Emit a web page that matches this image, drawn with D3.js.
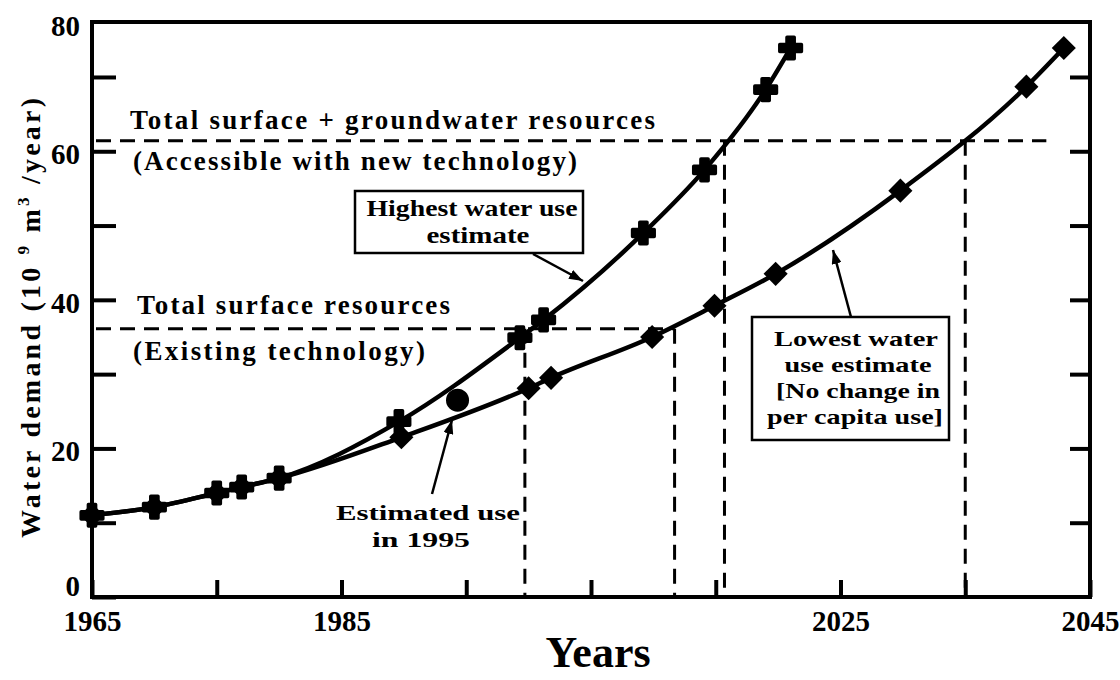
<!DOCTYPE html>
<html>
<head>
<meta charset="utf-8">
<script src="https://cdn.jsdelivr.net/npm/d3@7/dist/d3.min.js"></script>
<style>
  body { margin: 0; background: #fff; }
  svg { display: block; }
  text { font-family: "Liberation Serif", "Times New Roman", serif; font-weight: bold; fill: #000; }
</style>
</head>
<body>
<svg id="chart" width="1120" height="680"></svg>
<script>
// highest water use estimate (cross markers)
var highYears = [1965, 1970, 1975, 1977, 1980, 1989.6, 1999.3, 2001.2, 2009.2, 2014.1, 2019, 2021];
var highValues = [11.0, 12.1, 14.0, 14.8, 16.0, 23.6, 34.9, 37.3, 49.0, 57.5, 68.3, 73.9];

// lowest water use estimate (diamond markers)
var lowYears = [1965, 1970, 1975, 1977, 1980, 1989.8, 2000, 2001.8, 2009.9, 2014.9, 2019.8, 2029.8, 2039.9, 2042.9];
var lowValues = [11.0, 12.1, 14.0, 14.8, 16.0, 21.5, 28.1, 29.5, 35.0, 39.2, 43.5, 54.7, 68.7, 73.9];

// estimated use in 1995
var estYear = 1994.3;
var estValue = 26.5;

// resource levels and the years where the curves cross them
var levelValues = [61.4, 36.1];
var levelEndYears = [2041.5, 2011.7];
var crossYears = [1999.7, 2011.7, 2015.7, 2035];
var crossLevels = [36.1, 36.1, 61.4, 61.4];

var xTicks = [1965, 1975, 1985, 1995, 2005, 2015, 2025, 2035, 2045];
var xTickLabels = [1965, 1985, 2025, 2045];
var yTicks = [0, 10, 20, 30, 40, 50, 60, 70];
var yTickLabels = [0, 20, 40, 60];

var svg = d3.select('#chart');

var x = d3.scaleLinear().domain([1965, 2045]).range([92, 1090]);
var y = d3.scaleLinear().domain([0, 77.4]).range([597, 22]);

// arrow head
svg.append('defs').append('marker')
  .attr('id', 'arrow')
  .attr('viewBox', '0 0 14 10')
  .attr('refX', 14)
  .attr('refY', 5)
  .attr('markerWidth', 14)
  .attr('markerHeight', 10)
  .attr('markerUnits', 'userSpaceOnUse')
  .attr('orient', 'auto')
  .append('path')
  .attr('d', 'M0,0 L14,5 L0,10 Z')
  .attr('fill', '#000');

// axes
var xAxis = svg.append('g')
  .attr('transform', 'translate(0,' + y(0) + ')')
  .call(d3.axisBottom(x).tickValues(xTicks).tickSize(-17).tickPadding(13)
    .tickFormat(function(d) { return xTickLabels.indexOf(d) >= 0 ? d : ''; }));

var yAxis = svg.append('g')
  .attr('transform', 'translate(' + x(1965) + ',0)')
  .call(d3.axisLeft(y).tickValues(yTicks).tickSize(-24).tickPadding(12)
    .tickFormat(function(d) { return yTickLabels.indexOf(d) >= 0 ? d : ''; }));

var yAxisRight = svg.append('g')
  .attr('transform', 'translate(' + x(2045) + ',0)')
  .call(d3.axisLeft(y).tickValues(yTicks.slice(1)).tickSize(20).tickFormat(''));

[xAxis, yAxis, yAxisRight].forEach(function(g) {
  g.select('.domain').remove();
  g.selectAll('.tick line').attr('stroke', '#000').attr('stroke-width', 4);
  g.selectAll('text').attr('font-size', 29).attr('fill', '#000');
});

// labels sit a little below their ticks, the zero one above the axis
yAxis.selectAll('.tick text')
  .attr('dy', function(d) { return d === 0 ? '-0.05em' : '0.42em'; });

// the top label sits on the frame
svg.append('text')
  .attr('x', 80)
  .attr('y', 36)
  .attr('text-anchor', 'end')
  .attr('font-size', 29)
  .text('80');

// frame
svg.append('rect')
  .attr('x', x(1965))
  .attr('y', y.range()[1])
  .attr('width', x(2045) - x(1965))
  .attr('height', y(0) - y.range()[1])
  .attr('fill', 'none')
  .attr('stroke', '#000')
  .attr('stroke-width', 4);

// dashed resource levels
var dash = svg.append('g')
  .attr('stroke', '#000')
  .attr('stroke-width', 3)
  .attr('stroke-dasharray', '15,9')
  .attr('fill', 'none');

dash.selectAll('.level')
  .data(levelValues)
  .enter()
  .append('line')
  .attr('class', 'level')
  .attr('x1', x(1965) + 4)
  .attr('x2', function(d, i) { return x(levelEndYears[i]); })
  .attr('y1', function(d) { return y(d); })
  .attr('y2', function(d) { return y(d); });

dash.selectAll('.drop')
  .data(crossYears)
  .enter()
  .append('line')
  .attr('class', 'drop')
  .attr('x1', function(d) { return x(d); })
  .attr('x2', function(d) { return x(d); })
  .attr('y1', function(d, i) { return y(crossLevels[i]); })
  .attr('y2', y(0));

// curves
var line = d3.line()
  .x(function(d) { return x(d[0]); })
  .y(function(d) { return y(d[1]); })
  .curve(d3.curveMonotoneX);

var highData = d3.zip(highYears, highValues);
var lowData = d3.zip(lowYears, lowValues);

svg.append('path')
  .datum(lowData)
  .attr('d', line)
  .attr('fill', 'none')
  .attr('stroke', '#000')
  .attr('stroke-width', 4.5);

svg.append('path')
  .datum(highData)
  .attr('d', line)
  .attr('fill', 'none')
  .attr('stroke', '#000')
  .attr('stroke-width', 4.5);

// markers
svg.selectAll('.diamond')
  .data(lowData)
  .enter()
  .append('path')
  .attr('class', 'diamond')
  .attr('d', d3.symbol(d3.symbolSquare, 290))
  .attr('transform', function(d) { return 'translate(' + x(d[0]) + ',' + y(d[1]) + ') rotate(45)'; })
  .attr('fill', '#000');

svg.selectAll('.cross')
  .data(highData)
  .enter()
  .append('path')
  .attr('class', 'cross')
  .attr('d', d3.symbol(d3.symbolCross, 260))
  .attr('transform', function(d) { return 'translate(' + x(d[0]) + ',' + y(d[1]) + ')'; })
  .attr('fill', '#000')
  .attr('stroke', '#000')
  .attr('stroke-width', 3.5)
  .attr('stroke-linejoin', 'round');

svg.append('circle')
  .attr('cx', x(estYear))
  .attr('cy', y(estValue))
  .attr('r', 11.5)
  .attr('fill', '#000');

// annotation text
function label(txt, px, py, len, size, anchor, adjust) {
  return svg.append('text')
    .attr('x', px)
    .attr('y', py)
    .attr('font-size', size)
    .attr('text-anchor', anchor || 'start')
    .attr('textLength', len)
    .attr('lengthAdjust', adjust || 'spacing')
    .text(txt);
}

label('Total surface + groundwater resources', 130, 129, 525, 27);
label('(Accessible with new technology)', 133, 170, 444, 27);
label('Total surface resources', 137, 314, 313, 27);
label('(Existing technology)', 133, 360, 292, 27);

// highest estimate box
svg.append('rect')
  .attr('x', 355).attr('y', 191)
  .attr('width', 228).attr('height', 62)
  .attr('fill', '#fff').attr('stroke', '#000').attr('stroke-width', 2.5);
label('Highest water use', 472, 216, 211, 23, 'middle', 'spacingAndGlyphs');
label('estimate', 478, 243, 103, 23, 'middle', 'spacingAndGlyphs');

// lowest estimate box
svg.append('rect')
  .attr('x', 752).attr('y', 317)
  .attr('width', 197).attr('height', 123)
  .attr('fill', '#fff').attr('stroke', '#000').attr('stroke-width', 2.5);
label('Lowest water', 856, 346, 164, 22, 'middle', 'spacingAndGlyphs');
label('use estimate', 858, 372, 147, 22, 'middle', 'spacingAndGlyphs');
label('[No change in', 858, 398, 164, 22, 'middle', 'spacingAndGlyphs');
label('per capita use]', 855, 424, 176, 22, 'middle', 'spacingAndGlyphs');

label('Estimated use', 428, 520, 184, 22, 'middle', 'spacingAndGlyphs');
label('in  1995', 421, 547, 98, 22, 'middle', 'spacingAndGlyphs');

// arrows
var arrows = [
  [533, 254, 583, 281],
  [851, 317, 833, 250],
  [432, 494, 452, 420]
];
svg.selectAll('.arrow')
  .data(arrows)
  .enter()
  .append('line')
  .attr('class', 'arrow')
  .attr('x1', function(d) { return d[0]; })
  .attr('y1', function(d) { return d[1]; })
  .attr('x2', function(d) { return d[2]; })
  .attr('y2', function(d) { return d[3]; })
  .attr('stroke', '#000')
  .attr('stroke-width', 2.5)
  .attr('marker-end', 'url(#arrow)');

// axis titles
svg.append('text')
  .attr('x', 598)
  .attr('y', 667)
  .attr('text-anchor', 'middle')
  .attr('font-size', 44)
  .text('Years');

var yTitle = svg.append('text')
  .attr('transform', 'translate(40,318) rotate(-90)')
  .attr('text-anchor', 'middle')
  .attr('font-size', 28)
  .attr('textLength', 440)
  .attr('lengthAdjust', 'spacing');
yTitle.append('tspan').text('Water demand (10 ');
yTitle.append('tspan').attr('font-size', 17).attr('dy', -11).text('9');
yTitle.append('tspan').attr('dy', 11).text(' m');
yTitle.append('tspan').attr('font-size', 17).attr('dy', -11).text('3');
yTitle.append('tspan').attr('dy', 11).text(' /year)');
</script>
</body>
</html>
